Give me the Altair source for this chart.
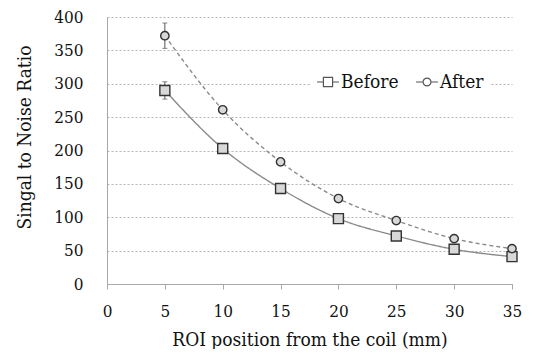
import altair as alt
import pandas as pd

positions = [5, 10, 15, 20, 25, 30, 35]
before = [290, 203, 143, 98, 72, 52, 41]
after = [372, 261, 183, 128, 95, 68, 53]
before_err = [13, 4, 4, 3, 3, 3, 3]
after_err = [19, 4, 4, 3, 3, 3, 3]
series_names = ["Before", "After"]
x_ticks = [0, 5, 10, 15, 20, 25, 30, 35]
y_ticks = [0, 50, 100, 150, 200, 250, 300, 350, 400]

rows = []
for x, v, e in zip(positions, before, before_err):
    rows.append({"x": x, "snr": v, "lo": v - e, "hi": v + e, "series": "Before"})
for x, v, e in zip(positions, after, after_err):
    rows.append({"x": x, "snr": v, "lo": v - e, "hi": v + e, "series": "After"})
df = pd.DataFrame(rows)
df["legend"] = df["series"]

FONT = "DejaVu Serif Condensed, DejaVu Serif"

xaxis = alt.Axis(values=x_ticks, grid=False, title="ROI position from the coil (mm)",
                 labelFont=FONT, titleFont=FONT, labelFontSize=17, titleFontSize=19,
                 labelColor="#111111", titleColor="#111111", titleFontWeight="normal",
                 domainColor="#a8a8a8", tickColor="#a8a8a8", tickSize=5, labelPadding=14,
                 titlePadding=11, labelFlush=False, labelOverlap=False)
yaxis = alt.Axis(values=y_ticks, grid=True, title="Singal to Noise Ratio",
                 labelFont=FONT, titleFont=FONT, labelFontSize=17, titleFontSize=19,
                 labelColor="#111111", titleColor="#111111", titleFontWeight="normal",
                 domainColor="#a8a8a8", ticks=False, labelPadding=24, titlePadding=19,
                 titleY=120, gridColor="#b5b5b5", gridDash=[2, 2], labelOverlap=False)
xscale = alt.Scale(domain=[0, 35], nice=False)
yscale = alt.Scale(domain=[0, 400], nice=False)


def X(field="x"):
    return alt.X(f"{field}:Q", scale=xscale, axis=xaxis)


def Y(field):
    return alt.Y(f"{field}:Q", scale=yscale, axis=yaxis)


base = alt.Chart(df)

lines = base.mark_line(interpolate="monotone", color="#8a8a8a", strokeWidth=1.4).encode(
    x=X(), y=Y("snr"),
    strokeDash=alt.StrokeDash("series:N", scale=alt.Scale(domain=series_names, range=[[1, 0], [4, 3]]), legend=None),
)

err = base.mark_rule(color="#555555", strokeWidth=1).encode(x=X(), y=Y("lo"), y2="hi:Q")
cap_hi = base.mark_tick(color="#555555", thickness=1, size=5, orient="horizontal").encode(x=X(), y=Y("hi"))
cap_lo = base.mark_tick(color="#555555", thickness=1, size=5, orient="horizontal").encode(x=X(), y=Y("lo"))

points = base.mark_point(filled=False, fill="#d8d8d8", fillOpacity=1, stroke="#333333", strokeWidth=1.4, opacity=1).encode(
    x=X(), y=Y("snr"),
    shape=alt.Shape("series:N", scale=alt.Scale(domain=series_names, range=["square", "circle"]), legend=None),
    size=alt.Size("series:N", scale=alt.Scale(domain=series_names, range=[100, 70]), legend=None),
)

sq_path = "M-1,0H-0.42M0.42,0H1M-0.42,-0.42H0.42V0.42H-0.42Z"
ci_path = "M-1,0H-0.36M0.36,0H1M-0.36,0A0.36,0.36,0,1,0,0.36,0A0.36,0.36,0,1,0,-0.36,0"

legend_layer = base.mark_point(filled=False, opacity=0).encode(
    x=X(), y=Y("snr"),
    shape=alt.Shape("legend:N", scale=alt.Scale(domain=series_names, range=[sq_path, ci_path]),
                    legend=alt.Legend(title=None, orient="none", legendX=203, legendY=47,
                                      direction="horizontal", symbolOpacity=1,
                                      symbolStrokeColor="#555555", symbolStrokeWidth=1.2,
                                      symbolFillColor="white", symbolSize=480,
                                      labelFont=FONT, labelFontSize=19, labelColor="#111111",
                                      columnPadding=14, symbolOffset=0, labelOffset=1,
                                      fillColor="white", padding=6)),
)

chart = alt.layer(lines, err, cap_hi, cap_lo, points, legend_layer).resolve_scale(
    shape="independent"
).properties(
    width=405, height=267, background="white",
    padding={"left": 7, "top": 0, "right": 0, "bottom": 0}
).configure(font=FONT).configure_view(stroke=None)

chart.save("out.html", embed_options={"renderer": "svg", "actions": False})
